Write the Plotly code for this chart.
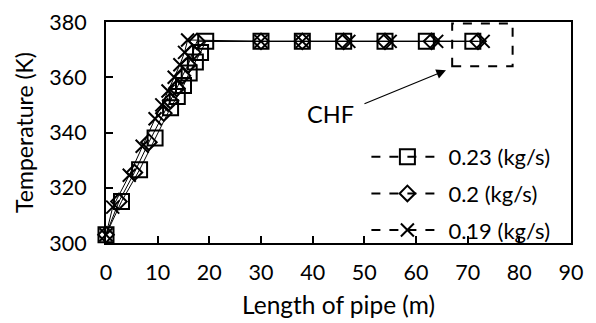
import plotly.graph_objects as go

# Data
L_023 = [0, 3, 6.5, 9.5, 12.5, 13.8, 15, 16.1, 17.3, 18.3, 19.3, 30, 38, 46, 54, 62, 71]
T_023 = [303, 315, 326.5, 338, 349, 353, 357, 361.5, 365.5, 369, 373, 373, 373, 373, 373, 373, 373]

L_020 = [0, 2.5, 5.5, 8.3, 11.2, 12.5, 13.7, 14.8, 15.9, 16.8, 17.6, 30, 38, 46, 54, 63, 72]
T_020 = [303, 315, 325.5, 336.5, 347, 351.5, 356, 360.5, 364.5, 369, 373, 373, 373, 373, 373, 373, 373]

L_019 = [0, 1.3, 4.5, 7, 9.5, 10.8, 12, 13.2, 14.3, 15.2, 15.8, 30, 38, 47, 55, 64, 73]
T_019 = [303, 313, 324.5, 335, 345, 350, 355, 360, 364.5, 369, 373.5, 373, 373, 373, 373, 373, 373]

series_names = ["0.23 (kg/s)", "0.2 (kg/s)", "0.19 (kg/s)"]
x_ticks = [0, 10, 20, 30, 40, 50, 60, 70, 80, 90]
y_ticks = [300, 320, 340, 360, 380]

FONT = "Lato"
marker_styles = [
    dict(symbol="square-open", size=15, color="black", line=dict(width=2, color="black")),
    dict(symbol="diamond-open", size=12, color="black", line=dict(width=2, color="black")),
    dict(symbol="x-thin-open", size=13, color="black", line=dict(width=2, color="black")),
]

fig = go.Figure()
for (xs, ys), m in zip([(L_023, T_023), (L_020, T_020), (L_019, T_019)], marker_styles):
    fig.add_trace(go.Scatter(x=xs, y=ys, mode="lines+markers",
                             line=dict(color="black", width=1),
                             marker=m, showlegend=False, cliponaxis=False))

# legend entries (dashed line style as in reference legend)
for i, (name, m) in enumerate(zip(series_names, marker_styles)):
    fig.add_trace(go.Scatter(x=[None], y=[None], mode="lines+markers", name=name,
                             legendgroup=f"g{i}",
                             line=dict(color="black", width=2, dash="dash"),
                             marker=m))

# CHF box and arrow
fig.add_shape(type="rect", x0=67, x1=78.7, y0=364, y1=379.5,
              line=dict(color="black", width=2, dash="dash"))
fig.add_annotation(x=65.8, y=362.5, ax=-83, ay=34, axref="pixel", ayref="pixel",
                   xref="x", yref="y", text="", showarrow=True,
                   arrowhead=2, arrowsize=1.6, arrowwidth=1.2, arrowcolor="black")
fig.add_annotation(x=43.5, y=346.7, xref="x", yref="y", text="CHF", showarrow=False,
                   font=dict(family=FONT, size=23.5, color="black"))

axis_common = dict(showline=True, linecolor="black", linewidth=2, mirror=True,
                   ticks="inside", ticklen=7, tickwidth=1.5, tickcolor="black",
                   showgrid=False, zeroline=False, automargin=False,
                   tickfont=dict(family=FONT, size=21.5, color="black"))

fig.update_layout(
    width=596, height=323,
    margin=dict(l=106, r=25, t=22, b=80),
    paper_bgcolor="white", plot_bgcolor="white",
    font=dict(family=FONT, size=21.5, color="black"),
    xaxis=dict(range=[0, 90], tickvals=x_ticks, ticklabelstandoff=9,
               title=dict(text="Length of pipe (m)", font=dict(family=FONT, size=24.5), standoff=13),
               **axis_common),
    yaxis=dict(range=[300, 380], tickvals=y_ticks, ticklabelstandoff=13,
               title=dict(text="Temperature (K)", font=dict(family=FONT, size=23), standoff=9),
               **axis_common),
    legend=dict(x=0.56, y=0.484, xanchor="left", yanchor="top",
                bgcolor="rgba(0,0,0,0)", font=dict(family=FONT, size=22),
                itemwidth=72, tracegroupgap=5, traceorder="grouped"),
)

fig.write_html("out.html")
